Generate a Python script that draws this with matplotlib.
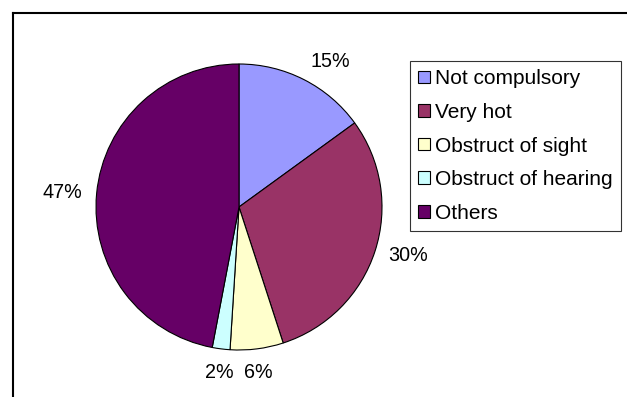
import numpy as np
import matplotlib.pyplot as plt
from matplotlib.lines import Line2D

# data for the pie
labels = ["Not compulsory", "Very hot", "Obstruct of sight", "Obstruct of hearing", "Others"]
shares = [15, 30, 6, 2, 47]
colors = ["#9999FF", "#993366", "#FFFFCC", "#CCFFFF", "#660066"]

plt.rcParams["font.family"] = ["Liberation Sans", "DejaVu Sans"]

W, H = 627, 397
fig = plt.figure(figsize=(W / 100, H / 100), dpi=100)

# pie axes: centre (239, 207) px, radius 143 px
cx, cy, r = 239, 207, 143
ax = fig.add_axes([(cx - r) / W, (H - cy - r) / H, 2 * r / W, 2 * r / H])
wedges, _ = ax.pie(
    shares, colors=colors, startangle=90, counterclock=False,
    wedgeprops=dict(edgecolor="black", linewidth=0.8),
)
ax.set_xlim(-1, 1)
ax.set_ylim(-1, 1)
ax.set_aspect("auto")
ax.axis("off")

# percentage labels, anchored by the corner nearest the slice
for w, v in zip(wedges, shares):
    mid = np.deg2rad((w.theta1 + w.theta2) / 2)
    x, y = np.cos(mid), np.sin(mid)
    ha = "left" if x > 0.35 else ("right" if x < -0.35 else "center")
    va = "baseline" if y > 0.35 else ("top" if y < -0.35 else "center")
    d = 1.1
    ax.text(x * d, y * d, f"{v}%", ha=ha, va=va, fontsize=14.2, clip_on=False)

# legend box on the right
leg = fig.legend(wedges, labels, loc="upper left",
                 bbox_to_anchor=(410 / W, 1 - 61 / H),
                 fontsize=15, frameon=True, fancybox=False,
                 handlelength=0.55, handleheight=0.55, handletextpad=0.25,
                 labelspacing=0.7, borderpad=0.4, borderaxespad=0)
leg.get_frame().set_edgecolor("black")
leg.get_frame().set_linewidth(0.8)
for h in leg.legend_handles:
    h.set_edgecolor("black")
    h.set_linewidth(0.8)

# chart area border (top and left edges)
fig.add_artist(Line2D([13 / W, 1], [1 - 13 / H, 1 - 13 / H], color="black", linewidth=1.5))
fig.add_artist(Line2D([13 / W, 13 / W], [0, 1 - 13 / H], color="black", linewidth=1.5))

fig.savefig("out.png", dpi=100)
